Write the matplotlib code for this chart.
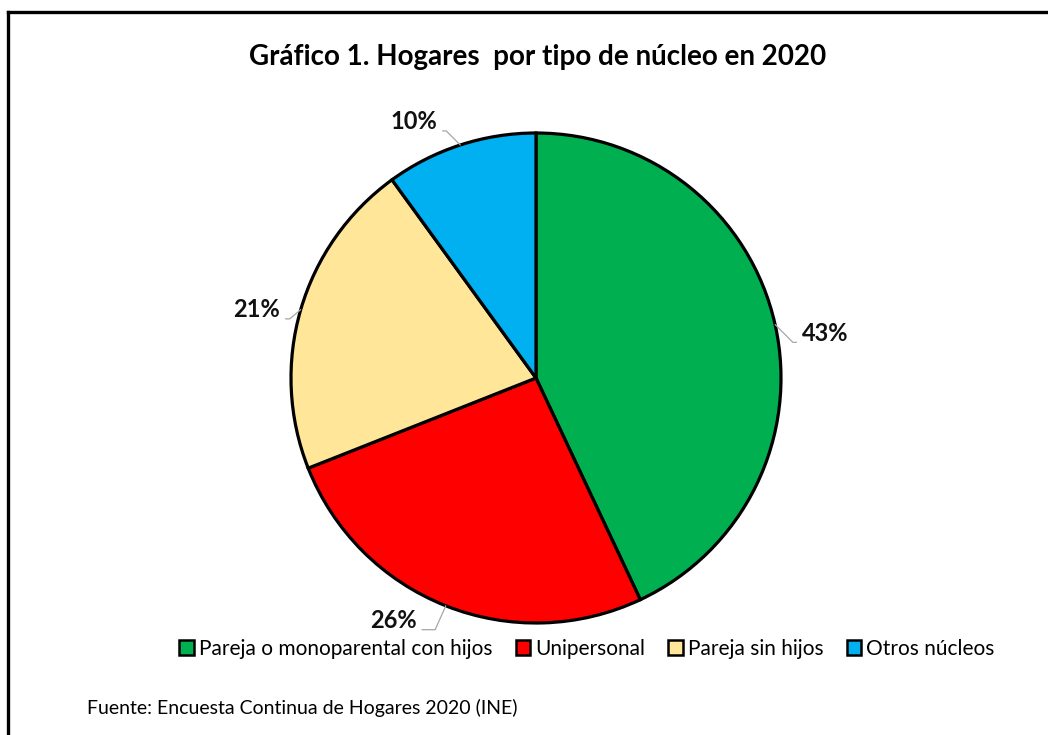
import matplotlib
matplotlib.use("Agg")
import matplotlib.pyplot as plt
from matplotlib.patches import Patch
from matplotlib.lines import Line2D
import numpy as np

plt.rcParams['font.family'] = ['Lato', 'DejaVu Sans']

# ---- datos ----
categorias = ['Pareja o monoparental con hijos', 'Unipersonal', 'Pareja sin hijos', 'Otros núcleos']
valores = [43, 26, 21, 10]
colores = ['#00B050', '#FF0000', '#FFE699', '#00B0F0']
etiquetas = ['43%', '26%', '21%', '10%']

# desplazamiento de cada etiqueta respecto al borde (en radios) y angulo de la guia
desp = [(0.11, -0.035), (-0.12, -0.06), (-0.085, 0.0), (-0.095, 0.095)]
ang_guia = [-45, 66, 40, -45]

W, H = 1048, 735
fig = plt.figure(figsize=(W / 100, H / 100), dpi=100)

cx, cy, r = 536, 378, 245
ax = fig.add_axes([(cx - r) / W, 1 - (cy + r) / H, 2 * r / W, 2 * r / H])
wedges, _ = ax.pie(valores, colors=colores, startangle=90, counterclock=False,
                   radius=1, wedgeprops=dict(edgecolor='black', linewidth=2.3))
ax.set_xlim(-1, 1)
ax.set_ylim(-1, 1)
ax.set_aspect('auto')
ax.axis('off')

for w, lab, d, ag in zip(wedges, etiquetas, desp, ang_guia):
    mid = np.deg2rad((w.theta1 + w.theta2) / 2)
    x0, y0 = np.cos(mid), np.sin(mid)
    tx, ty = x0 + d[0], y0 + d[1]
    ha = 'left' if d[0] > 0 else 'right'
    rel = (0.0, 0.1) if d[0] > 0 else (1.0, 0.1)
    ax.annotate(lab, xy=(x0, y0), xytext=(tx, ty), ha=ha, va='center',
                fontsize=17, fontweight='bold', color='#111111',
                annotation_clip=False,
                arrowprops=dict(arrowstyle='-', color='#a6a6a6', lw=0.9,
                                shrinkA=2, shrinkB=0, relpos=rel,
                                connectionstyle='angle,angleA=0,angleB=%d,rad=0' % ag))

fig.text(538 / W, 1 - 57 / H, 'Gráfico 1. Hogares  por tipo de núcleo en 2020',
         ha='center', va='center', fontsize=20, fontweight='bold')

handles = [Patch(facecolor=c, edgecolor='black', linewidth=1.8) for c in colores]
fig.legend(handles, categorias, loc='center', bbox_to_anchor=(587 / W, 1 - 649 / H),
           ncol=4, frameon=False, fontsize=15, handlelength=0.7, handleheight=0.7,
           handletextpad=0.25, columnspacing=1.1)

fig.text(87 / W, 1 - 708 / H, 'Fuente: Encuesta Continua de Hogares 2020 (INE)',
         ha='left', va='center', fontsize=14)

# marco
fig.add_artist(Line2D([8 / W, 1], [1 - 12 / H, 1 - 12 / H], color='black', lw=2.4))
fig.add_artist(Line2D([8 / W, 8 / W], [0, 1 - 12 / H], color='black', lw=2.4))

fig.savefig('out.png', dpi=100)
